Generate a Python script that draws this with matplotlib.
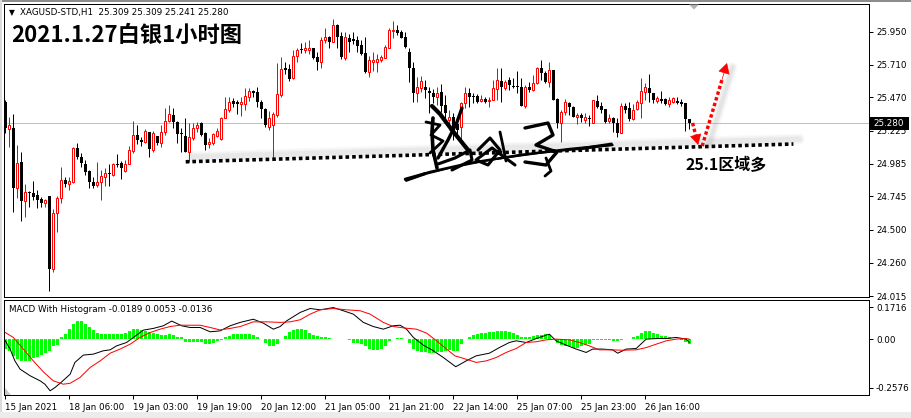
import matplotlib
matplotlib.use("Agg")
import matplotlib.pyplot as plt
import numpy as np
from matplotlib.patches import Polygon, Rectangle

plt.rcParams["font.family"] = ["DejaVu Sans"]
plt.rcParams["axes.unicode_minus"] = False

W, H = 912, 418
PT = 0.72  # points per pixel at dpi 100

# XAGUSD H1 candles, left to right
opens = [
    25.435, 25.238, 25.245, 24.806, 24.996, 24.711, 24.780, 24.769, 24.755, 24.725,
    24.696, 24.747, 24.213, 24.623, 24.733, 24.864, 24.835, 24.850, 25.099, 25.033,
    24.982, 24.930, 24.850, 24.828, 24.850, 24.886, 24.916, 24.901, 24.985, 24.990,
    24.930, 24.985, 25.079, 25.194, 25.160, 25.143, 25.218, 25.084, 25.189, 25.133,
    25.213, 25.296, 25.340, 25.291, 25.206, 25.189, 25.071, 25.174, 25.243, 25.279,
    25.206, 25.126, 25.133, 25.189, 25.165, 25.320, 25.377, 25.443, 25.433, 25.423,
    25.419, 25.474, 25.516, 25.511, 25.433, 25.384, 25.252, 25.267, 25.340, 25.487,
    25.682, 25.677, 25.609, 25.774, 25.821, 25.814, 25.816, 25.833, 25.767, 25.730,
    25.889, 25.913, 25.877, 25.999, 25.921, 25.760, 25.906, 25.897, 25.889, 25.853,
    25.792, 25.653, 25.730, 25.730, 25.743, 25.760, 25.833, 25.955, 25.962, 25.946,
    25.913, 25.804, 25.682, 25.499, 25.536, 25.543, 25.518, 25.503, 25.474, 25.509,
    25.413, 25.304, 25.326, 25.274, 25.252, 25.426, 25.503, 25.479, 25.479, 25.443,
    25.455, 25.443, 25.450, 25.528, 25.591, 25.536, 25.596, 25.553, 25.553, 25.543,
    25.406, 25.543, 25.523, 25.572, 25.682, 25.650, 25.584, 25.670, 25.455, 25.284,
    25.364, 25.430, 25.401, 25.328, 25.340, 25.304, 25.316, 25.284, 25.443, 25.406,
    25.382, 25.299, 25.316, 25.279, 25.211, 25.406, 25.389, 25.309, 25.382, 25.430,
    25.511, 25.536, 25.499, 25.445, 25.455, 25.455, 25.421, 25.438, 25.445, 25.438,
    25.430, 25.309,
]
highs = [
    25.450, 25.326, 25.348, 25.121, 25.069, 24.835, 24.784, 24.857, 24.791, 24.740,
    24.725, 24.747, 24.652, 24.747, 24.960, 24.886, 24.886, 25.106, 25.135, 25.062,
    25.011, 24.938, 24.886, 24.996, 24.938, 24.952, 24.982, 24.989, 25.055, 25.000,
    25.011, 25.113, 25.296, 25.267, 25.179, 25.238, 25.218, 25.223, 25.189, 25.267,
    25.391, 25.413, 25.389, 25.296, 25.243, 25.318, 25.279, 25.279, 25.287, 25.287,
    25.213, 25.170, 25.206, 25.243, 25.326, 25.472, 25.472, 25.462, 25.450, 25.474,
    25.538, 25.540, 25.523, 25.547, 25.450, 25.389, 25.369, 25.362, 25.721, 25.765,
    25.730, 25.711, 25.816, 25.828, 25.865, 25.872, 25.889, 25.833, 25.804, 25.913,
    25.975, 25.921, 26.043, 26.004, 25.950, 25.950, 25.931, 25.950, 25.921, 25.889,
    25.913, 25.774, 25.804, 25.784, 25.779, 25.853, 25.975, 26.028, 25.999, 25.962,
    25.946, 25.828, 25.730, 25.616, 25.626, 25.596, 25.543, 25.528, 25.543, 25.567,
    25.487, 25.377, 25.355, 25.318, 25.438, 25.543, 25.536, 25.499, 25.494, 25.487,
    25.474, 25.474, 25.596, 25.682, 25.682, 25.596, 25.621, 25.609, 25.665, 25.609,
    25.560, 25.584, 25.633, 25.694, 25.743, 25.665, 25.730, 25.670, 25.462, 25.377,
    25.455, 25.438, 25.406, 25.353, 25.353, 25.353, 25.340, 25.452, 25.487, 25.438,
    25.384, 25.348, 25.328, 25.316, 25.426, 25.426, 25.438, 25.421, 25.450, 25.609,
    25.577, 25.640, 25.503, 25.479, 25.518, 25.462, 25.470, 25.474, 25.474, 25.455,
    25.430, 25.309,
]
lows = [
    25.208, 25.106, 24.630, 24.733, 24.564, 24.594, 24.667, 24.718, 24.660, 24.667,
    24.667, 24.052, 24.191, 24.484, 24.696, 24.813, 24.791, 24.842, 25.018, 24.960,
    24.901, 24.806, 24.806, 24.813, 24.718, 24.821, 24.821, 24.894, 24.960, 24.872,
    24.923, 24.980, 25.062, 25.128, 25.113, 25.135, 25.033, 25.071, 25.121, 25.108,
    25.194, 25.289, 25.243, 25.133, 25.071, 25.067, 24.998, 25.157, 25.218, 25.189,
    25.084, 25.096, 25.121, 25.182, 25.157, 25.316, 25.364, 25.401, 25.345, 25.335,
    25.377, 25.443, 25.474, 25.401, 25.316, 25.255, 25.230, 25.026, 25.328, 25.474,
    25.638, 25.589, 25.604, 25.726, 25.792, 25.792, 25.784, 25.750, 25.670, 25.682,
    25.865, 25.828, 25.872, 25.828, 25.750, 25.743, 25.804, 25.858, 25.799, 25.779,
    25.645, 25.621, 25.662, 25.653, 25.730, 25.755, 25.828, 25.902, 25.926, 25.902,
    25.828, 25.584, 25.438, 25.438, 25.511, 25.462, 25.353, 25.426, 25.413, 25.362,
    25.304, 25.230, 25.157, 25.172, 25.157, 25.389, 25.401, 25.428, 25.426, 25.438,
    25.428, 25.401, 25.448, 25.448, 25.438, 25.523, 25.523, 25.536, 25.499, 25.404,
    25.389, 25.511, 25.518, 25.570, 25.596, 25.572, 25.547, 25.448, 25.243, 25.145,
    25.340, 25.340, 25.323, 25.274, 25.291, 25.284, 25.260, 25.279, 25.389, 25.353,
    25.284, 25.279, 25.218, 25.177, 25.206, 25.353, 25.299, 25.304, 25.377, 25.316,
    25.450, 25.438, 25.430, 25.430, 25.430, 25.413, 25.401, 25.430, 25.421, 25.406,
    25.225, 25.241,
]
closes = [
    25.245, 25.267, 24.806, 24.989, 24.711, 24.777, 24.769, 24.740, 24.718, 24.696,
    24.718, 24.213, 24.623, 24.733, 24.864, 24.835, 24.857, 25.099, 25.033, 24.989,
    24.923, 24.850, 24.821, 24.850, 24.894, 24.916, 24.908, 24.985, 24.978, 24.952,
    24.985, 25.084, 25.194, 25.157, 25.143, 25.223, 25.091, 25.208, 25.133, 25.213,
    25.296, 25.348, 25.287, 25.199, 25.199, 25.071, 25.181, 25.243, 25.267, 25.194,
    25.121, 25.145, 25.199, 25.223, 25.320, 25.384, 25.437, 25.419, 25.419, 25.433,
    25.481, 25.516, 25.503, 25.433, 25.384, 25.267, 25.318, 25.348, 25.494, 25.677,
    25.670, 25.602, 25.774, 25.816, 25.814, 25.828, 25.833, 25.755, 25.730, 25.889,
    25.913, 25.877, 25.999, 25.913, 25.767, 25.913, 25.877, 25.882, 25.847, 25.784,
    25.653, 25.743, 25.743, 25.750, 25.767, 25.840, 25.962, 25.965, 25.938, 25.906,
    25.840, 25.682, 25.499, 25.547, 25.591, 25.523, 25.499, 25.474, 25.499, 25.406,
    25.355, 25.328, 25.245, 25.230, 25.426, 25.499, 25.470, 25.470, 25.438, 25.457,
    25.438, 25.450, 25.536, 25.596, 25.543, 25.584, 25.560, 25.543, 25.543, 25.406,
    25.543, 25.523, 25.577, 25.682, 25.645, 25.584, 25.670, 25.450, 25.284, 25.364,
    25.438, 25.397, 25.328, 25.340, 25.316, 25.323, 25.309, 25.450, 25.401, 25.377,
    25.291, 25.316, 25.279, 25.206, 25.406, 25.377, 25.309, 25.377, 25.438, 25.516,
    25.543, 25.499, 25.450, 25.462, 25.445, 25.421, 25.450, 25.462, 25.430, 25.421,
    25.309, 25.280,
]

# MACD histogram, one value per candle
macd_hist = [
    -0.051, -0.060, -0.087, -0.105, -0.117, -0.117, -0.114, -0.101, -0.091, -0.083,
    -0.073, -0.060, -0.034, -0.030, 0.011, 0.028, 0.055, 0.082, 0.099, 0.099,
    0.082, 0.064, 0.050, 0.037, 0.028, 0.028, 0.028, 0.028, 0.028, 0.028,
    0.034, 0.046, 0.055, 0.055, 0.051, 0.046, 0.041, 0.034, 0.028, 0.025,
    0.025, 0.028, 0.025, 0.011, 0.011, -0.012, -0.012, -0.012, -0.012, -0.012,
    -0.025, -0.025, -0.016, -0.007, -0.004, 0.011, 0.020, 0.028, 0.028, 0.028,
    0.028, 0.028, 0.023, 0.011, 0.002, -0.016, -0.034, -0.037, -0.025, 0.002,
    0.020, 0.041, 0.050, 0.055, 0.055, 0.050, 0.037, 0.023, 0.016, 0.011,
    0.011, 0.007, 0.004, 0.004, 0.004, 0.005, -0.004, -0.016, -0.020, -0.025,
    -0.034, -0.051, -0.055, -0.055, -0.051, -0.034, -0.007, 0.005, 0.007, 0.007,
    0.002, -0.016, -0.051, -0.060, -0.066, -0.069, -0.073, -0.073, -0.069, -0.066,
    -0.060, -0.057, -0.060, -0.060, -0.025, 0.002, 0.011, 0.023, 0.028, 0.034,
    0.037, 0.041, 0.041, 0.043, 0.043, 0.043, 0.041, 0.037, 0.023, 0.011,
    0.011, 0.011, 0.016, 0.023, 0.023, 0.028, 0.023, 0.005, -0.016, -0.030,
    -0.034, -0.037, -0.043, -0.043, -0.037, -0.030, -0.025, -0.004, -0.002, -0.002,
    -0.002, -0.004, -0.007, -0.007, -0.002, 0.002, 0.002, 0.011, 0.020, 0.034,
    0.043, 0.043, 0.037, 0.028, 0.020, 0.016, 0.011, 0.005, 0.005, -0.002,
    -0.012, -0.025,
]

# MACD main line (black), read at bar positions
macd_bar = [0, 1.2, 2.4, 3.7, 6.2, 8.7, 9.9, 11.2, 12.4, 13.7, 16.2, 17.4, 19.5, 22,
            24.5, 26.2, 27.8, 30.3, 32.8, 34.5, 37, 39.5, 41.6, 44.1, 46.2, 48.7,
            51.2, 53.7, 56.2, 58.7, 62, 64.5, 67, 68.7, 70.3, 73.7, 76.2, 78.7, 82,
            84.5, 87, 89.5, 92, 94.5, 97, 98.7, 100.3, 102, 104.5, 107, 109.5,
            112.6, 115.2, 117.7, 121, 123.5, 126, 127.7, 130.2, 132.7, 135.2, 136,
            137.7, 140.2, 142.7, 145.2, 146.8, 149.3, 151.8, 153.1, 155.2, 157.7,
            160.2, 162.7, 165.2, 167.7, 170.2, 171]
macd_val = [-0.007, -0.051, -0.114, -0.158, -0.193, -0.220, -0.238, -0.273, -0.256,
            -0.233, -0.185, -0.122, -0.083, -0.078, -0.060, -0.055, -0.034, -0.016,
            0.023, 0.050, 0.059, 0.073, 0.098, 0.073, 0.064, 0.064, 0.041, 0.046,
            0.073, 0.091, 0.108, 0.087, 0.055, 0.069, 0.099, 0.144, 0.165, 0.158,
            0.170, 0.153, 0.135, 0.091, 0.069, 0.055, 0.073, 0.076, 0.055, 0.011,
            -0.030, -0.060, -0.096, -0.145, -0.114, -0.087, -0.073, -0.043, -0.016,
            -0.007, -0.016, 0.005, 0.023, 0.028, -0.007, -0.030, -0.051, -0.069,
            -0.051, -0.051, -0.055, -0.073, -0.051, -0.048, 0.002, 0.005, 0.005,
            0.011, 0.002, -0.016]

# signal line (red)
signal_bar = [0, 2, 4.5, 7, 9.5, 12, 14.5, 16.2, 18.7, 21.2, 23.7, 26.2, 28.7, 31.2,
              33.7, 36.2, 38.7, 41.2, 43.7, 48.7, 51.2, 53.7, 56.2, 58.7, 62, 65.3,
              68.7, 71.2, 73.7, 76.2, 78.7, 82, 85.3, 88.7, 91.2, 94.5, 97, 100.3,
              102.8, 105.3, 107.8, 110.3, 112.4, 115.2, 117.7, 120.2, 122.7, 125.2,
              127.7, 130.2, 132.7, 135.2, 137.7, 141, 143.5, 146, 148.5, 151, 154.3,
              157.7, 160.2, 162.7, 165.2, 167.7, 170.2, 171]
signal_val = [0.037, 0.011, -0.051, -0.114, -0.172, -0.220, -0.238, -0.233, -0.202,
              -0.149, -0.114, -0.073, -0.051, -0.025, 0.011, 0.037, 0.055, 0.069,
              0.076, 0.076, 0.064, 0.051, 0.059, 0.069, 0.094, 0.094, 0.091, 0.094,
              0.105, 0.135, 0.158, 0.165, 0.158, 0.153, 0.135, 0.091, 0.069, 0.060,
              0.055, 0.034, -0.007, -0.051, -0.087, -0.105, -0.122, -0.114, -0.096,
              -0.069, -0.048, -0.016, -0.012, -0.002, 0.002, -0.002, -0.016, -0.034,
              -0.055, -0.055, -0.057, -0.055, -0.043, -0.025, -0.007, 0.002, 0.005,
              0.002]

time_ticks = [0, 16, 32, 48, 64, 80, 96, 112, 128, 144, 160]
time_labels = ["15 Jan 2021", "18 Jan 06:00", "19 Jan 03:00", "19 Jan 19:00",
               "20 Jan 12:00", "21 Jan 05:00", "21 Jan 21:00", "22 Jan 14:00",
               "25 Jan 07:00", "25 Jan 23:00", "26 Jan 16:00"]
price_ticks = [25.950, 25.710, 25.470, 25.225, 24.985, 24.745, 24.500, 24.260, 24.015]
last_price = 25.280

# drawn support line and the red "bounce" arrows (bar index, price)
support_bar = [45.1, 197.0]
support_price = [24.998, 25.128]
arrow_down = [(171.8, 25.282), (173.2, 25.121)]
arrow_up = [(174.2, 25.113), (180.4, 25.721)]


def px_box(left, top, right, bottom):
    return [left / W, 1 - bottom / H, (right - left) / W, (bottom - top) / H]


fig = plt.figure(figsize=(W / 100, H / 100), dpi=100, facecolor="white")
ax = fig.add_axes(px_box(4, 4, 869, 297))
axm = fig.add_axes(px_box(4, 300, 869, 395))

xlim = (-0.325, 215.9)
for a in (ax, axm):
    a.set_xlim(*xlim)
    for s in a.spines.values():
        s.set_linewidth(1.0 * PT)
        s.set_color("black")
ax.set_ylim(24.008, 26.153)
axm.set_ylim(-0.2955, 0.2103)

# ---- candles ----
o = np.array(opens)
c = np.array(closes)
hi = np.array(highs)
lo = np.array(lows)
idx = np.arange(len(o))
up = c > o
wick_colors = np.where(up, "red", "black")
ax.vlines(idx, lo, hi, colors=wick_colors, lw=1.0 * PT, zorder=2)

dn = ~up
body_dn = np.maximum(o[dn] - c[dn], 0.007)
ax.bar(idx[dn], body_dn, bottom=np.minimum(o[dn], c[dn]), width=0.75,
       color="black", lw=0, zorder=3)
body_up = np.maximum(c[up] - o[up], 0.004)
ax.bar(idx[up], body_up, bottom=o[up], width=0.55, facecolor="white",
       edgecolor="red", lw=1.0 * PT, zorder=3)

ax.axhline(last_price, color="#c0c0c0", lw=1.0 * PT, zorder=1)

# support line with soft shadow
sx = np.array(support_bar)
sy = np.array(support_price)
for w, al in [(11, 0.06), (8, 0.08), (5, 0.12)]:
    ax.plot(sx + 1.5, sy + 0.036, color="#a0a0a0", lw=w * PT, alpha=al,
            solid_capstyle="round", zorder=1.5)
ax.plot(sx, sy, color="black", lw=3.6 * PT, ls=(0, (1, 0.85)),
        dash_capstyle="butt", zorder=4)

# red dotted arrows with shadow on the rising one
(ax0, ay0), (ax1, ay1) = arrow_up
for w, al in [(10, 0.06), (7, 0.09), (4, 0.14)]:
    ax.plot([ax0 + 1.6, ax1 + 1.4], [ay0, ay1 - 0.03], color="#a0a0a0", lw=w * PT,
            alpha=al, solid_capstyle="round", zorder=1.5)
for (bx0, by0), (bx1, by1) in (arrow_down, arrow_up):
    fx = bx0 + 0.8 * (bx1 - bx0)
    fy = by0 + 0.8 * (by1 - by0)
    ax.plot([bx0, fx], [by0, fy], color="red", lw=3.4 * PT, ls=(0, (1, 0.75)),
            dash_capstyle="butt", zorder=5)
    ax.annotate("", xy=(bx1, by1), xytext=(fx, fy),
                arrowprops=dict(arrowstyle="-|>,head_length=0.9,head_width=0.5",
                                color="red", lw=0.5, shrinkA=0, shrinkB=0,
                                mutation_scale=7.5), zorder=5)

ax.set_xticks([])
ax.yaxis.tick_right()
ax.set_yticks(price_ticks)
ax.set_yticklabels([f"{p:.3f}" for p in price_ticks])
ax.tick_params(axis="y", length=3, width=1.0 * PT, labelsize=6.3, pad=2)

# ---- MACD panel ----
axm.bar(idx, macd_hist, width=0.75, color="#00ff00", lw=0, zorder=2)
axm.plot(macd_bar, macd_val, color="black", lw=1.0 * PT, zorder=3)
axm.plot(signal_bar, signal_val, color="red", lw=1.0 * PT, zorder=3)
axm.yaxis.tick_right()
axm.set_yticks([0.1716, 0.0, -0.2576])
axm.set_yticklabels(["0.1716", "0.00", "-0.2576"])
axm.tick_params(axis="y", length=3, width=1.0 * PT, labelsize=6.3, pad=2)
axm.set_xticks(time_ticks)
axm.set_xticklabels(time_labels)
axm.tick_params(axis="x", length=3, width=1.0 * PT, labelsize=6.3, pad=3)
for lbl in axm.get_xticklabels():
    lbl.set_ha("left")

# ---- overlay in pixel coordinates: frame, texts, signature ----
ov = fig.add_axes([0, 0, 1, 1])
ov.set_xlim(0, W)
ov.set_ylim(H, 0)
ov.axis("off")
ov.patch.set_alpha(0)

ov.add_patch(Rectangle((0, 0), W, 2, color="#8c8c8c", lw=0))
ov.add_patch(Rectangle((0, 0), 2.5, H, color="#dcdcdc", lw=0))
ov.add_patch(Rectangle((0, 412), W, 6, color="#ececec", lw=0))
ov.add_patch(Polygon([(689, 4.5), (699, 4.5), (694, 9.5)], closed=True,
                     color="#b4b4b4", lw=0))
ov.add_patch(Polygon([(5, 388), (5, 394.5), (11, 394.5)], closed=True,
                     color="#c8c8c8", lw=0))

ov.text(9, 13, "\u25bc", fontsize=5.5, ha="left", va="center")
ov.text(20, 13, "XAGUSD-STD,H1  25.309 25.309 25.241 25.280", fontsize=6.3,
        ha="left", va="center")
ov.text(11, 35.5, "2021.1.27白银1小时图", fontsize=16, fontweight="bold",
        family=["Noto Sans CJK SC", "DejaVu Sans"], ha="left", va="center")
ov.text(686, 165, "25.1区域多", fontsize=11.5, fontweight="bold",
        family=["Noto Sans CJK SC", "DejaVu Sans"], ha="left", va="center")
ov.text(9, 309, "MACD With Histogram -0.0189 0.0053 -0.0136", fontsize=6.3,
        ha="left", va="center")
ov.add_patch(Rectangle((869.5, 117), 40, 12.5, color="black", lw=0))
ov.text(873, 123.5, "25.280", fontsize=6.3, color="white", ha="left", va="center")

# handwritten signature
strokes = [
    ([432, 440, 452, 468], [106, 114, 130, 150], 3.0),
    ([462, 457, 448, 438], [108, 122, 140, 158], 2.4),
    ([433, 432, 433, 437], [118, 132, 150, 168], 2.6),
    ([426, 440, 431, 443, 430], [122, 125, 135, 141, 153], 2.0),
    ([438, 455, 470, 472, 452], [164, 158, 150, 160, 170], 2.2),
    ([478, 490, 500, 488, 476, 492, 515], [150, 138, 150, 165, 160, 148, 165], 2.2),
    ([500, 503, 506], [132, 146, 161], 2.0),
    ([525, 548, 553, 536, 557, 546, 525], [128, 123, 135, 145, 152, 165, 162], 2.4),
    ([546, 551, 545], [158, 171, 176], 2.0),
    ([405, 430, 470, 520, 570, 612], [179, 172, 163, 155, 149, 145], 1.8),
    ([418, 450, 490, 540, 590], [176, 168, 160, 153, 148], 1.2),
]
for xs, ys, lw in strokes:
    ov.plot(xs, ys, color="black", lw=lw * PT * 1.4, solid_capstyle="round",
            solid_joinstyle="round")
ov.add_patch(Polygon([(575, 148), (612, 142.5), (614, 145.5), (578, 150.5)],
                     closed=True, color="black", lw=0))
ov.add_patch(Polygon([(404, 180), (425, 172), (426, 175), (406, 182)],
                     closed=True, color="black", lw=0))

fig.savefig("out.png", dpi=100, facecolor="white")
